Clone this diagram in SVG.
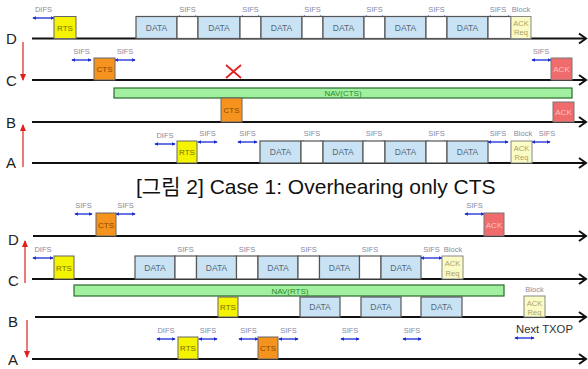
<svg xmlns="http://www.w3.org/2000/svg" width="588" height="369" viewBox="0 0 588 369">
<defs>
<marker id="sh" viewBox="0 0 6 6" refX="5" refY="3" markerWidth="3.2" markerHeight="3.2" orient="auto-start-reverse"><path d="M0,0 L6,3 L0,6 z" fill="#1a2bd6"/></marker>
<marker id="rh" viewBox="0 0 8 8" refX="7" refY="4" markerWidth="6" markerHeight="6" orient="auto"><path d="M0,0.5 L8,4 L0,7.5 z" fill="#e02020"/></marker>
</defs>
<style>
.tl{stroke:#111;stroke-width:2.2;fill:none}
.ah{stroke:#111;stroke-width:2;fill:none}
.lab{font-family:"Liberation Sans",Arial,sans-serif;font-size:15px;fill:#222}
.data{fill:#c9e3f5;stroke:#555;stroke-width:1.2}
.wb{fill:#fff;stroke:#555;stroke-width:1.2}
.rts{fill:#f4f400;stroke:#666;stroke-width:1}
.cts{fill:#f5931e;stroke:#666;stroke-width:1}
.ack{fill:#f06b6b;stroke:#777;stroke-width:1}
.ar{fill:#fbfbc6;stroke:#888;stroke-width:1}
.nav{fill:#a0f0a0;stroke:#2a6a2a;stroke-width:1.2}
.bt{font-family:"Liberation Sans",Arial,sans-serif;font-size:8.5px;text-anchor:middle;fill:#556677}
.rt{font-family:"Liberation Sans",Arial,sans-serif;font-size:8px;text-anchor:middle;fill:#7a7000}
.ct{font-family:"Liberation Sans",Arial,sans-serif;font-size:8px;text-anchor:middle;fill:#8a4a00}
.kt{font-family:"Liberation Sans",Arial,sans-serif;font-size:8px;text-anchor:middle;fill:#fbc4c4}
.qt{font-family:"Liberation Sans",Arial,sans-serif;font-size:7.5px;text-anchor:middle;fill:#aaa266}
.nt{font-family:"Liberation Sans",Arial,sans-serif;font-size:8px;text-anchor:middle;fill:#2a8a2a}
.sl{font-family:"Liberation Sans",Arial,sans-serif;font-size:7.5px;text-anchor:middle;fill:#8a8aa0}
.sa{stroke:#1a2bd6;stroke-width:1.3;fill:none;marker-start:url(#sh);marker-end:url(#sh)}
.ra{stroke:#e02020;stroke-width:1.2;fill:none;marker-end:url(#rh)}
.cap{font-family:"Liberation Sans","Noto Sans CJK KR",sans-serif;font-size:21px;fill:#111}
</style>

<g id="timelines">
<path class="tl" d="M32 38.5 H585 M32 80 H585 M32 122 H585 M32 163 H585"/>
<path class="ah" d="M579 33.5 L586 38.5 L579 43.5 M579 75 L586 80 L579 85 M579 117 L586 122 L579 127 M579 158 L586 163 L579 168"/>
<path class="tl" d="M33 236 H585 M32 279 H585 M35 317 H585 M32 359 H585"/>
<path class="ah" d="M579 231 L586 236 L579 241 M579 274 L586 279 L579 284 M579 312 L586 317 L579 322 M579 354 L586 359 L579 364"/>
</g>

<g id="labels">
<text class="lab" x="6" y="44">D</text>
<text class="lab" x="6" y="86">C</text>
<text class="lab" x="6" y="128">B</text>
<text class="lab" x="6" y="168">A</text>
<text class="lab" x="8" y="245">D</text>
<text class="lab" x="8" y="286">C</text>
<text class="lab" x="8" y="327">B</text>
<text class="lab" x="8" y="365">A</text>
</g>

<g id="connectors">
<path class="ra" d="M23 42 V80"/>
<path class="ra" d="M23 167 V125"/>
<path class="ra" d="M25 283 V241"/>
<path class="ra" d="M27 320 V357"/>
<!-- top D intervals -->
<path class="sa" d="M33 18 H54"/><text class="sl" x="43.5" y="12">DIFS</text>
<path class="sa" d="M177 17 H198"/><text class="sl" x="187.5" y="12">SIFS</text>
<path class="sa" d="M240 17 H261"/><text class="sl" x="250.5" y="12">SIFS</text>
<path class="sa" d="M302 17 H323"/><text class="sl" x="312.5" y="12">SIFS</text>
<path class="sa" d="M364 17 H385"/><text class="sl" x="374.5" y="12">SIFS</text>
<path class="sa" d="M426 17 H447"/><text class="sl" x="436.5" y="12">SIFS</text>
<path class="sa" d="M488 17 H511"/><text class="sl" x="498" y="12">SIFS</text>
<text class="sl" x="521" y="12">Block</text>
<!-- top C intervals -->
<path class="sa" d="M72 60 H91"/><text class="sl" x="81.5" y="54">SIFS</text>
<path class="sa" d="M115 60 H135"/><text class="sl" x="125" y="54">SIFS</text>
<path class="sa" d="M532 60 H551"/><text class="sl" x="541" y="54">SIFS</text>
<!-- top A intervals -->
<path class="sa" d="M155 144 H175"/><text class="sl" x="165" y="138">DIFS</text>
<path class="sa" d="M198 142 H217"/><text class="sl" x="207.5" y="136">SIFS</text>
<path class="sa" d="M238 142 H257"/><text class="sl" x="247.5" y="136">SIFS</text>
<path class="sa" d="M301 142 H323"/><text class="sl" x="312" y="136">SIFS</text>
<path class="sa" d="M363 142 H385"/><text class="sl" x="374" y="136">SIFS</text>
<path class="sa" d="M426 142 H447"/><text class="sl" x="436.5" y="136">SIFS</text>
<path class="sa" d="M488 142 H508"/><text class="sl" x="498" y="136">SIFS</text>
<text class="sl" x="523" y="136">Block</text>
<path class="sa" d="M532 142 H550"/><text class="sl" x="547" y="136">SIFS</text>
<!-- bottom D intervals -->
<path class="sa" d="M75 214 H92"/><text class="sl" x="83.5" y="208">SIFS</text>
<path class="sa" d="M116 214 H135"/><text class="sl" x="125.5" y="208">SIFS</text>
<path class="sa" d="M465 214 H484"/><text class="sl" x="474.5" y="208">SIFS</text>
<!-- bottom C intervals -->
<path class="sa" d="M33 258 H53"/><text class="sl" x="43" y="252">DIFS</text>
<path class="sa" d="M175 258 H196.5"/><text class="sl" x="185.5" y="252">SIFS</text>
<path class="sa" d="M236.5 258 H258"/><text class="sl" x="247" y="252">SIFS</text>
<path class="sa" d="M298 258 H319.5"/><text class="sl" x="308.5" y="252">SIFS</text>
<path class="sa" d="M359.5 258 H381"/><text class="sl" x="370" y="252">SIFS</text>
<path class="sa" d="M421 258 H442"/><text class="sl" x="431.5" y="252">SIFS</text>
<text class="sl" x="453" y="252">Block</text>
<!-- bottom B -->
<text class="sl" x="534.5" y="292">Block</text>
<!-- bottom A intervals -->
<path class="sa" d="M157 339 H175"/><text class="sl" x="166" y="333">DIFS</text>
<path class="sa" d="M199 339 H217"/><text class="sl" x="208" y="333">SIFS</text>
<path class="sa" d="M239 339 H258"/><text class="sl" x="248.5" y="333">SIFS</text>
<path class="sa" d="M279 339 H298"/><text class="sl" x="288.5" y="333">SIFS</text>
<path class="sa" d="M341 339 H359"/><text class="sl" x="350" y="333">SIFS</text>
<path class="sa" d="M403 339 H421"/><text class="sl" x="412" y="333">SIFS</text>
<path class="sa" d="M515 338 H534"/>
<text x="516" y="333" style="font-family:'Liberation Sans',Arial,sans-serif;font-size:11.3px;fill:#333">Next TXOP</text>
</g>

<!-- TOP: D -->
<g id="top-D-rts"><rect class="rts" x="54" y="16.5" width="22" height="22"/><text class="rt" x="65" y="30.5">RTS</text></g>
<g id="top-D-data">
<rect class="data" x="136" y="16.5" width="41" height="22"/><text class="bt" x="156.5" y="30.5">DATA</text>
<rect class="wb" x="177" y="16.5" width="21" height="22"/>
<rect class="data" x="198" y="16.5" width="42" height="22"/><text class="bt" x="219" y="30.5">DATA</text>
<rect class="wb" x="240" y="16.5" width="21" height="22"/>
<rect class="data" x="261" y="16.5" width="41" height="22"/><text class="bt" x="281.5" y="30.5">DATA</text>
<rect class="wb" x="302" y="16.5" width="21" height="22"/>
<rect class="data" x="323" y="16.5" width="41" height="22"/><text class="bt" x="343.5" y="30.5">DATA</text>
<rect class="wb" x="364" y="16.5" width="21" height="22"/>
<rect class="data" x="385" y="16.5" width="41" height="22"/><text class="bt" x="405.5" y="30.5">DATA</text>
<rect class="wb" x="426" y="16.5" width="21" height="22"/>
<rect class="data" x="447" y="16.5" width="41" height="22"/><text class="bt" x="467.5" y="30.5">DATA</text>
<rect class="wb" x="488" y="16.5" width="23" height="22"/>
</g>
<g id="top-D-bar"><rect class="ar" x="511" y="16.5" width="20" height="22"/><text class="qt" x="521" y="26">ACK</text><text class="qt" x="521" y="35">Req</text></g>

<!-- TOP: C -->
<g id="top-C-cts"><rect class="cts" x="94" y="58" width="21" height="22"/><text class="ct" x="104.5" y="72">CTS</text></g>
<g id="top-C-x"><path d="M226 65 L241 78 M241 65 L226 78" stroke="#e02020" stroke-width="1.8" fill="none"/></g>
<g id="top-C-ack"><rect class="ack" x="551" y="58" width="21" height="22"/><text class="kt" x="561.5" y="72">ACK</text></g>
<g id="top-nav"><rect class="nav" x="114" y="88" width="458" height="10"/><text class="nt" x="343" y="96">NAV(CTS)</text></g>

<!-- TOP: B -->
<g id="top-B-cts"><rect class="cts" x="221" y="98" width="21" height="24"/><text class="ct" x="231.5" y="113">CTS</text></g>
<g id="top-B-ack"><rect class="ack" x="553" y="102" width="21" height="20"/><text class="kt" x="563.5" y="115">ACK</text></g>

<!-- TOP: A -->
<g id="top-A-rts"><rect class="rts" x="177" y="141" width="20" height="22"/><text class="rt" x="187" y="155">RTS</text></g>
<g id="top-A-data">
<rect class="data" x="260" y="141" width="41" height="22"/><text class="bt" x="280.5" y="155">DATA</text>
<rect class="wb" x="301" y="141" width="22" height="22"/>
<rect class="data" x="323" y="141" width="40" height="22"/><text class="bt" x="343" y="155">DATA</text>
<rect class="wb" x="363" y="141" width="22" height="22"/>
<rect class="data" x="385" y="141" width="41" height="22"/><text class="bt" x="405.5" y="155">DATA</text>
<rect class="wb" x="426" y="141" width="21" height="22"/>
<rect class="data" x="447" y="141" width="41" height="22"/><text class="bt" x="467.5" y="155">DATA</text>
</g>
<g id="top-A-bar"><rect class="ar" x="511" y="141" width="21" height="22"/><text class="qt" x="521.5" y="151">ACK</text><text class="qt" x="521.5" y="160">Req</text></g>

<g id="caption"><text class="cap" x="136" y="194">[그림 2] Case 1: Overhearing only CTS</text></g>

<!-- BOTTOM: D -->
<g id="bot-D-cts"><rect class="cts" x="96" y="213" width="20" height="23"/><text class="ct" x="106" y="227.5">CTS</text></g>
<g id="bot-D-ack"><rect class="ack" x="484" y="213" width="20" height="23"/><text class="kt" x="494" y="227.5">ACK</text></g>

<!-- BOTTOM: C -->
<g id="bot-C-rts"><rect class="rts" x="54" y="256" width="20" height="23"/><text class="rt" x="64" y="270.5">RTS</text></g>
<g id="bot-C-data">
<rect class="data" x="135" y="256" width="40" height="23"/><text class="bt" x="155" y="270.5">DATA</text>
<rect class="wb" x="175" y="256" width="21.5" height="23"/>
<rect class="data" x="196.5" y="256" width="40" height="23"/><text class="bt" x="216.5" y="270.5">DATA</text>
<rect class="wb" x="236.5" y="256" width="21.5" height="23"/>
<rect class="data" x="258" y="256" width="40" height="23"/><text class="bt" x="278" y="270.5">DATA</text>
<rect class="wb" x="298" y="256" width="21.5" height="23"/>
<rect class="data" x="319.5" y="256" width="40" height="23"/><text class="bt" x="339.5" y="270.5">DATA</text>
<rect class="wb" x="359.5" y="256" width="21.5" height="23"/>
<rect class="data" x="381" y="256" width="40" height="23"/><text class="bt" x="401" y="270.5">DATA</text>
</g>
<g id="bot-C-bar"><rect class="ar" x="442" y="256" width="21" height="23"/><text class="qt" x="452.5" y="266">ACK</text><text class="qt" x="452.5" y="275.5">Req</text></g>
<g id="bot-nav"><rect class="nav" x="74" y="285" width="430" height="11"/><text class="nt" x="290" y="293.5">NAV(RTS)</text></g>

<!-- BOTTOM: B -->
<g id="bot-B-rts"><rect class="rts" x="218" y="297" width="20" height="20"/><text class="rt" x="228" y="310">RTS</text></g>
<g id="bot-B-data">
<rect class="data" x="300" y="297" width="40" height="20"/><text class="bt" x="320" y="310">DATA</text>
<rect class="data" x="361" y="297" width="40" height="20"/><text class="bt" x="381" y="310">DATA</text>
<rect class="data" x="421" y="297" width="41" height="20"/><text class="bt" x="441.5" y="310">DATA</text>
</g>
<g id="bot-B-bar"><rect class="ar" x="524" y="296" width="21" height="21"/><text class="qt" x="534.5" y="305.5">ACK</text><text class="qt" x="534.5" y="314.5">Req</text></g>

<!-- BOTTOM: A -->
<g id="bot-A-rts"><rect class="rts" x="178" y="337" width="20" height="22"/><text class="rt" x="188" y="351">RTS</text></g>
<g id="bot-A-cts"><rect class="cts" x="258" y="337" width="20" height="22"/><text class="ct" x="268" y="351">CTS</text></g>
</svg>
